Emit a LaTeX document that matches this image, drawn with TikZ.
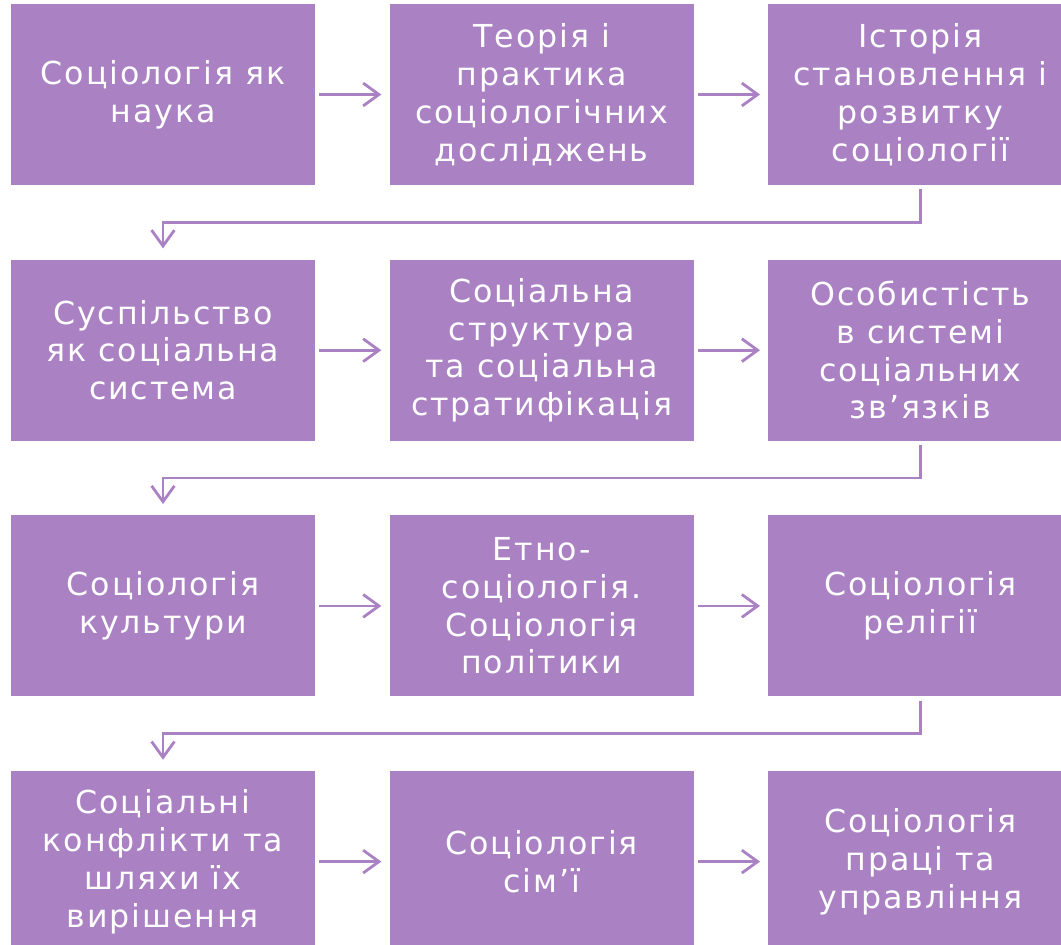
\documentclass[tikz,border=0pt]{standalone}
\usepackage{fontspec}
\setmainfont{DejaVu Sans}[LetterSpace=6.0]
\usepackage{tikz}
\usetikzlibrary{arrows.meta,positioning}
\definecolor{sclilac}{RGB}{170,130,196}
\tikzstyle{topic} = [fill=sclilac, text=white, minimum width=6.08cm, minimum height=3.62cm, inner sep=0pt, align=center, font=\fontsize{18}{21.5}\selectfont]
\tikzstyle{arrow} = [line width=1.6pt, -{Straight Barb[length=9pt,width=13pt]}, color=sclilac, shorten <=0.08cm, shorten >=0.16cm]
\tikzstyle{turn} = [arrow, shorten >=0.22cm]

\begin{document}
\begin{tikzpicture}[node distance=1.48cm]
    \useasboundingbox (0,0) rectangle (21.22,-18.88);

    % Row 1
    \node[topic] (r1c1) at (3.26,-1.89) {Соціологія як\\наука};
    \node[topic, right=of r1c1] (r1c2) {Теорія і\\практика\\соціологічних\\досліджень};
    \node[topic, right=of r1c2] (r1c3) {Історія\\становлення і\\розвитку\\соціології};

    % Row 2
    \node[topic, below=of r1c1] (r2c1) {Суспільство\\як соціальна\\система};
    \node[topic, right=of r2c1] (r2c2) {Соціальна\\структура\\та соціальна\\стратифікація};
    \node[topic, right=of r2c2] (r2c3) {Особистість\\в системі\\соціальних\\зв’язків};

    % Row 3
    \node[topic, below=of r2c1] (r3c1) {Соціологія\\культури};
    \node[topic, right=of r3c1] (r3c2) {Етно-\\соціологія.\\Соціологія\\політики};
    \node[topic, right=of r3c2] (r3c3) {Соціологія\\релігії};

    % Row 4
    \node[topic, below=of r3c1] (r4c1) {Соціальні\\конфлікти та\\шляхи їх\\вирішення};
    \node[topic, right=of r4c1] (r4c2) {Соціологія\\сім’ї};
    \node[topic, right=of r4c2] (r4c3) {Соціологія\\праці та\\управління};

    % Arrows along each row
    \foreach \r in {1,2,3,4} {
        \draw[arrow] (r\r c1) -- (r\r c2);
        \draw[arrow] (r\r c2) -- (r\r c3);
    }

    % Turns to the next row
    \draw[turn] (r1c3.south) -- ++(0,-0.74) -| (r2c1.north);
    \draw[turn] (r2c3.south) -- ++(0,-0.74) -| (r3c1.north);
    \draw[turn] (r3c3.south) -- ++(0,-0.74) -| (r4c1.north);
\end{tikzpicture}
\end{document}
